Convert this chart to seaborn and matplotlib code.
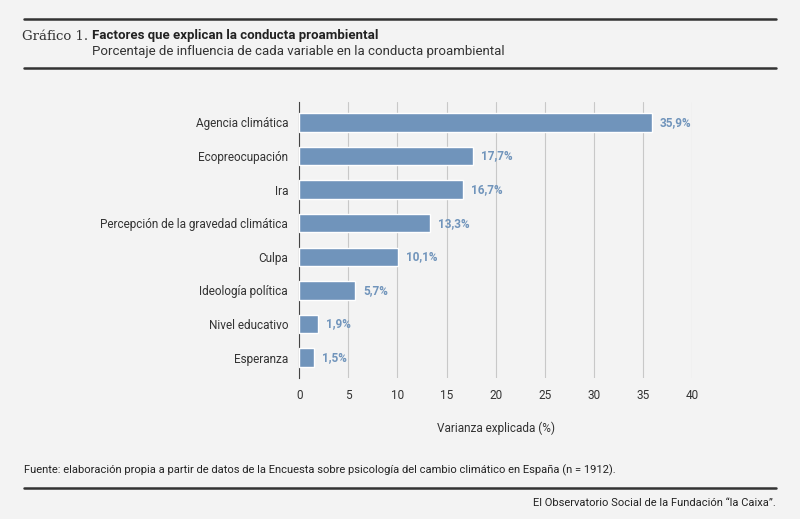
import matplotlib
matplotlib.use('Agg')
import matplotlib.pyplot as plt
import seaborn as sns
import pandas as pd

factores = ['Agencia climática', 'Ecopreocupación', 'Ira', 'Percepción de la gravedad climática',
            'Culpa', 'Ideología política', 'Nivel educativo', 'Esperanza']
valores = [35.9, 17.7, 16.7, 13.3, 10.1, 5.7, 1.9, 1.5]
etiquetas = ['35,9%', '17,7%', '16,7%', '13,3%', '10,1%', '5,7%', '1,9%', '1,5%']

bg = '#f3f3f3'
azul = '#7094bb'
sns.set_style('white')
plt.rcParams['font.family'] = ['Roboto', 'DejaVu Sans']

df = pd.DataFrame({'factor': factores, 'valor': valores})
fig = plt.figure(figsize=(8, 5.19), dpi=100, facecolor=bg)
ax = fig.add_axes([0.374, 0.272, 0.491, 0.531])
ax.set_facecolor(bg)
sns.barplot(data=df, x='valor', y='factor', color=azul, width=0.55, saturation=1, ax=ax, zorder=3)
ax.set_xlim(0, 40)
ax.set_ylim(7.6, -0.6)
ax.set_xticks(range(0, 41, 5))
ax.grid(axis='x', color='#c8c8c8', lw=0.8, zorder=0)
for s in ['top', 'right', 'bottom']:
    ax.spines[s].set_visible(False)
ax.spines['left'].set_color('#444444')
ax.tick_params(length=0, labelsize=8.5, colors='#333333', pad=8)
ax.set_ylabel('')
ax.set_xlabel('Varianza explicada (%)', fontsize=8.5, color='#333333', labelpad=14)
for i, (v, t) in enumerate(zip(valores, etiquetas)):
    ax.text(v + 0.8, i, t, va='center', ha='left', fontsize=8.5, color=azul, fontweight='bold')

# cabecera y pie
lw = 1.8
fig.add_artist(plt.Line2D([0.03, 0.97], [1 - 19/519] * 2, color='#333333', lw=lw))
fig.add_artist(plt.Line2D([0.03, 0.97], [1 - 68/519] * 2, color='#333333', lw=lw))
fig.add_artist(plt.Line2D([0.03, 0.97], [1 - 488/519] * 2, color='#333333', lw=lw))
fig.text(0.028, 1 - 36/519, 'Gráfico 1.', fontsize=9.5, family='DejaVu Serif', color='#333333', va='center')
fig.text(0.115, 1 - 36/519, 'Factores que explican la conducta proambiental', fontsize=9.5,
         fontweight='bold', color='#222222', va='center')
fig.text(0.115, 1 - 52/519, 'Porcentaje de influencia de cada variable en la conducta proambiental',
         fontsize=9.5, color='#333333', va='center')
fig.text(0.03, 1 - 470/519, 'Fuente: elaboración propia a partir de datos de la Encuesta sobre psicología '
         'del cambio climático en España (n = 1912).', fontsize=8, color='#222222', va='center')
fig.text(0.97, 1 - 503/519, 'El Observatorio Social de la Fundación “la Caixa”.', fontsize=8,
         color='#222222', va='center', ha='right')

fig.savefig('out.png', dpi=100, facecolor=bg)
